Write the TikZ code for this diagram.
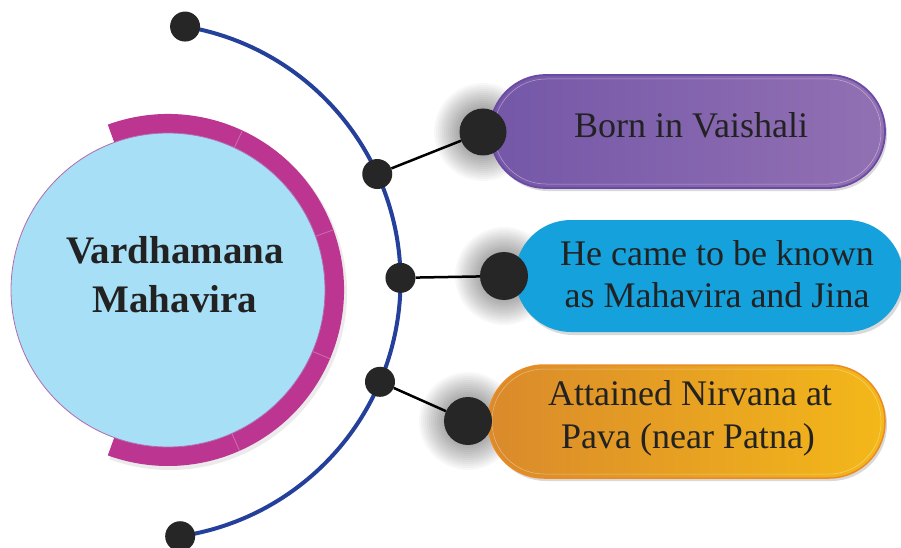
\documentclass[tikz,border=0pt]{standalone}
\usepackage{fontspec}
\setmainfont{Liberation Serif}
\usetikzlibrary{calc,shadows}
\definecolor{ringmag}{HTML}{BC3591}
\definecolor{ringline}{HTML}{CE6FB0}
\definecolor{circfill}{HTML}{A7DFF6}
\definecolor{circedge}{HTML}{B06CB0}
\definecolor{arcblue}{HTML}{24409A}
\definecolor{dotcol}{HTML}{262626}
\definecolor{txtcol}{HTML}{222222}
\definecolor{pAbord}{HTML}{6A4AA3}
\definecolor{pAcap}{HTML}{6546A3}
\definecolor{pAglow}{HTML}{4E2C98}
\definecolor{pAleft}{HTML}{7457A8}
\definecolor{pAright}{HTML}{9270B3}
\definecolor{pBmain}{HTML}{14A1DC}
\definecolor{pBlight}{HTML}{50B9E8}
\definecolor{pBcap}{HTML}{5C9CD5}
\definecolor{pBglow}{HTML}{4A80C0}
\definecolor{pCbord}{HTML}{EC8A24}
\definecolor{pCcap}{HTML}{D78A2E}
\definecolor{pCglow}{HTML}{B06A2A}
\definecolor{pCleft}{HTML}{DA8A2B}
\definecolor{pCright}{HTML}{F4B819}
\definecolor{pCend}{HTML}{E6C62A}
\begin{document}
\begin{tikzpicture}[x=1pt,y=1pt,
  pill/.style={rectangle, rounded corners=56pt, inner sep=0pt, minimum height=113pt,
    drop shadow={shadow xshift=2pt, shadow yshift=-3pt, opacity=0.15, fill=black}},
  adot/.style={circle, fill=dotcol, inner sep=0pt, minimum size=30pt},
  bdot/.style={circle, fill=dotcol, inner sep=0pt, minimum size=48pt},
  link/.style={black, line width=2.5pt},
  pilltext/.style={anchor=base, text=txtcol, inner sep=0pt, font=\fontsize{36}{42}\selectfont},
  maintext/.style={anchor=base, text=txtcol, inner sep=0pt, font=\fontsize{39}{49}\selectfont\bfseries}
]
\useasboundingbox (0,0) rectangle (901,-548);
\fill[white] (0,0) rectangle (901,-548);

% soft halos behind the big dots
\foreach \cx/\cy in {483/-132, 504/-276, 468/-421}{
  \foreach \r in {25,27,...,49}{
    \fill[black, opacity=0.028] (\cx,\cy) circle (\r pt);
  }
}

% main circle with ring
\coordinate (C0) at (168,-290);
\fill[black, opacity=0.08] ($(C0)+(2,-3)+(110:177pt)$) arc[start angle=110, end angle=-110, radius=177pt]
   -- ($(C0)+(2,-3)+(-110:157pt)$) arc[start angle=-110, end angle=110, radius=157pt] -- cycle;
\fill[ringmag] ($(C0)+(110:176pt)$) arc[start angle=110, end angle=-110, radius=176pt]
   -- ($(C0)+(-110:157pt)$) arc[start angle=-110, end angle=110, radius=157pt] -- cycle;
\foreach \a in {65,20,-23,-66}{
  \draw[ringline, line width=0.8pt] ($(C0)+(\a:157pt)$) -- ($(C0)+(\a:176pt)$);
}
\node[circle, fill=circfill, draw=circedge, line width=0.8pt, minimum size=314pt, inner sep=0pt] (c0) at (C0) {};
\node[maintext] (m1) at (175,-263) {Vardhamana};
\node[maintext] (m2) at (175,-312) {Mahavira};

% pills
\node[pill, minimum width=395pt, left color=pAleft, right color=pAright, draw=pAbord, line width=1.8pt,
  path picture={
    \fill[pAcap] (470,-60) rectangle (533,-200);
    \begin{scope}\clip (470,-60) rectangle (533,-200);
      \shade[inner color=pAglow, outer color=pAcap] (483,-132) circle (76pt);
    \end{scope}
    \draw[white, opacity=0.35, line width=0.6pt] (533,-60) -- (533,-200);
  }] (p1) at (687.5,-131.5) {};
\draw[white, opacity=0.45, line width=0.5pt, rounded corners=52pt] (494,-79) rectangle (881,-184);

\node[pill, minimum width=388pt, minimum height=112pt, fill=pBmain,
  path picture={
    \shade[left color=pBlight, right color=pBmain] (560,-200) rectangle (650,-350);
    \fill[pBcap] (490,-200) rectangle (560,-350);
    \begin{scope}\clip (490,-200) rectangle (560,-350);
      \shade[inner color=pBglow, outer color=pBcap] (504,-276) circle (76pt);
    \end{scope}
    \draw[white, opacity=0.3, line width=0.6pt] (560,-200) -- (560,-350);
  }] (p2) at (709,-276) {};

\node[pill, minimum width=397pt, left color=pCleft, right color=pCright, draw=pCbord, line width=1.5pt,
  path picture={
    \shade[left color=pCright, right color=pCend] (835,-350) rectangle (890,-490);
    \fill[pCcap] (470,-350) rectangle (532,-490);
    \begin{scope}\clip (470,-350) rectangle (532,-490);
      \shade[inner color=pCglow, outer color=pCcap] (468,-421) circle (76pt);
    \end{scope}
    \draw[white, opacity=0.3, line width=0.6pt] (532,-350) -- (532,-490);
  }] (p3) at (686.5,-421.5) {};
\draw[white, opacity=0.4, line width=0.5pt, rounded corners=52pt] (492,-369) rectangle (881,-474);

% pill texts
\node[pilltext] (t1) at (691,-138) {Born in Vaishali};
\node[pilltext] (t2a) at (717,-265) {He came to be known};
\node[pilltext] (t2b) at (717,-307) {as Mahavira and Jina};
\node[pilltext] (t3a) at (690,-405) {Attained Nirvana at};
\node[pilltext] (t3b) at (688,-448) {Pava (near Patna)};

% blue arc
\coordinate (A0) at (142.5,-281);
\draw[arcblue, line width=4pt] (A0) ++(80.5:258pt) arc[start angle=80.5, end angle=-81.6, radius=258pt];

% dots
\node[adot] (top) at ($(A0)+(80.5:258pt)$) {};
\node[adot] (bot) at ($(A0)+(-81.6:258pt)$) {};
\node[adot] (d1) at ($(A0)+(24.5:258pt)$) {};
\node[adot] (d2) at ($(A0)+(0.7:258pt)$) {};
\node[adot] (d3) at ($(A0)+(-23:258pt)$) {};
\node[bdot, minimum size=47pt] (b1) at (483,-132) {};
\node[bdot] (b2) at (504,-276) {};
\node[bdot] (b3) at (468,-421) {};

\draw[link] (d1) -- (b1);
\draw[link] (d2) -- (b2);
\draw[link] (d3) -- (b3);
\end{tikzpicture}
\end{document}
